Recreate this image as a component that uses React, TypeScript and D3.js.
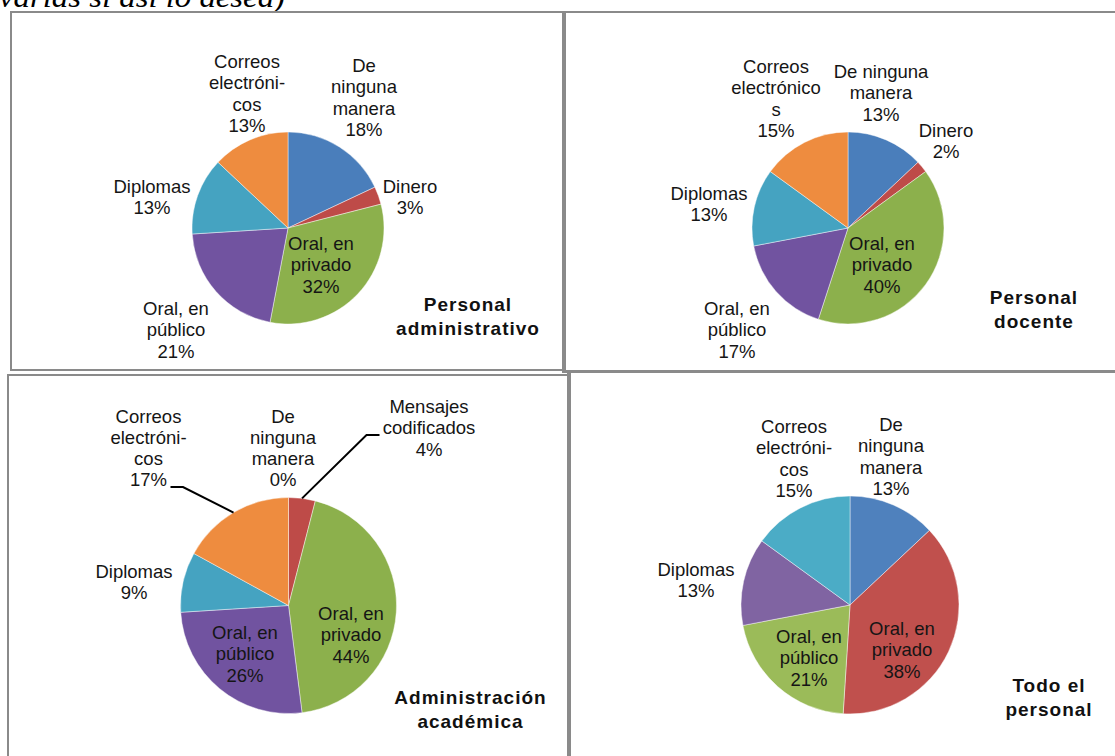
import React from 'react';
import * as d3 from 'd3';

// ---- Data -------------------------------------------------------------
const categoriesAdmin = ['De ninguna manera', 'Dinero', 'Oral, en privado', 'Oral, en público', 'Diplomas', 'Correos electrónicos'];
const valuesAdmin = [18, 3, 32, 21, 13, 13];
const labelLinesAdmin = [['De', 'ninguna', 'manera'], ['Dinero'], ['Oral, en', 'privado'], ['Oral, en', 'público'], ['Diplomas'], ['Correos', 'electróni-', 'cos']];

const categoriesDocente = ['De ninguna manera', 'Dinero', 'Oral, en privado', 'Oral, en público', 'Diplomas', 'Correos electrónicos'];
const valuesDocente = [13, 2, 40, 17, 13, 15];
const labelLinesDocente = [['De ninguna', 'manera'], ['Dinero'], ['Oral, en', 'privado'], ['Oral, en', 'público'], ['Diplomas'], ['Correos', 'electrónico', 's']];

const categoriesAcademica = ['De ninguna manera', 'Mensajes codificados', 'Oral, en privado', 'Oral, en público', 'Diplomas', 'Correos electrónicos'];
const valuesAcademica = [0, 4, 44, 26, 9, 17];
const labelLinesAcademica = [['De', 'ninguna', 'manera'], ['Mensajes', 'codificados'], ['Oral, en', 'privado'], ['Oral, en', 'público'], ['Diplomas'], ['Correos', 'electróni-', 'cos']];

const categoriesTodo = ['De ninguna manera', 'Oral, en privado', 'Oral, en público', 'Diplomas', 'Correos electrónicos'];
const valuesTodo = [13, 38, 21, 13, 15];
const labelLinesTodo = [['De', 'ninguna', 'manera'], ['Oral, en', 'privado'], ['Oral, en', 'público'], ['Diplomas'], ['Correos', 'electróni-', 'cos']];

const titleAdmin = ['Personal', 'administrativo'];
const titleDocente = ['Personal', 'docente'];
const titleAcademica = ['Administración', 'académica'];
const titleTodo = ['Todo el', 'personal'];

// ---- Styles & layout ---------------------------------------------------
const paletteDoc = ['#4A7EBB', '#BE4B48', '#8CB04C', '#7153A0', '#45A3C1', '#EE8C3F'];
const paletteOffice = ['#4F81BD', '#C0504D', '#9BBB59', '#8064A2', '#4BACC6', '#F79646'];

const LABEL_FONT = "'Liberation Sans', Arial, sans-serif";
const LABEL_SIZE = 18.5;
const LINE_GAP = 21.3;
const BORDER = '#8a8a8a';

type Leader = { index: number; elbow: [number, number]; end: [number, number] };
type Panel = {
  categories: string[];
  values: number[];
  lines: string[][];
  palette: string[];
  cx: number;
  cy: number;
  r: number;
  // label anchor: [center x offset, first baseline offset] relative to pie center
  labelPos: [number, number][];
  title: string[];
  titleX: number;
  titleY: number;
  titleGap: number;
  leaders?: Leader[];
};

const panels: Panel[] = [
  {
    categories: categoriesAdmin, values: valuesAdmin, lines: labelLinesAdmin, palette: paletteDoc,
    cx: 288, cy: 228, r: 96,
    labelPos: [[76, -156], [122, -35], [33, 22], [-112, 87], [-136, -35], [-41, -160]],
    title: titleAdmin, titleX: 468, titleY: 311, titleGap: 23.5,
  },
  {
    categories: categoriesDocente, values: valuesDocente, lines: labelLinesDocente, palette: paletteDoc,
    cx: 848, cy: 228, r: 96,
    labelPos: [[33, -150], [98, -91], [34, 22], [-111, 87], [-139, -28], [-72, -155]],
    title: titleDocente, titleX: 1034, titleY: 304, titleGap: 24,
  },
  {
    categories: categoriesAcademica, values: valuesAcademica, lines: labelLinesAcademica, palette: paletteDoc,
    cx: 288.5, cy: 605.5, r: 108,
    labelPos: [[-5.5, -183], [140.5, -192.5], [62.5, 14.5], [-43.5, 33.5], [-154.5, -27.5], [-140, -183]],
    title: titleAcademica, titleX: 470.5, titleY: 704, titleGap: 24,
    leaders: [
      { index: 1, elbow: [78, -170.5], end: [91, -170.5] },
      { index: 5, elbow: [-105.5, -118.5], end: [-118, -118.5] },
    ],
  },
  {
    categories: categoriesTodo, values: valuesTodo, lines: labelLinesTodo, palette: paletteOffice,
    cx: 850, cy: 605, r: 109,
    labelPos: [[41, -174], [52, 30], [-41, 38], [-154, -29], [-56, -172]],
    title: titleTodo, titleX: 1049, titleY: 692, titleGap: 23.5,
  },
];

const pieGen = d3.pie<number>().sort(null).value((d) => d);

function PiePanel({ p }: { p: Panel }) {
  const arcs = pieGen(p.values);
  const arc = d3.arc<d3.PieArcDatum<number>>().innerRadius(0).outerRadius(p.r);
  const rim = d3.arc<d3.PieArcDatum<number>>().innerRadius(p.r).outerRadius(p.r);
  return (
    <g transform={`translate(${p.cx},${p.cy})`}>
      {arcs.map((a, i) =>
        a.value > 0 ? (
          <path key={`s${i}`} d={arc(a) || ''} fill={p.palette[i]} stroke="#ffffff" strokeOpacity={0.55} strokeWidth={0.8}>
            <title>{`${p.categories[i]}: ${a.value}%`}</title>
          </path>
        ) : null
      )}
      {(p.leaders || []).map((l, k) => {
        const [mx, my] = rim.centroid(arcs[l.index]);
        const line = d3.line()([[mx, my], l.elbow, l.end]);
        return <path key={`l${k}`} d={line || ''} fill="none" stroke="#000" strokeWidth={2} />;
      })}
      {arcs.map((a, i) => {
        const [lx, ly] = p.labelPos[i];
        const rows = [...p.lines[i], `${a.value}%`];
        return (
          <text key={`t${i}`} x={lx} y={ly} textAnchor="middle" fontFamily={LABEL_FONT} fontSize={LABEL_SIZE} fill="#151515">
            {rows.map((row, j) => (
              <tspan key={j} x={lx} y={ly + j * LINE_GAP}>{row}</tspan>
            ))}
          </text>
        );
      })}
      <text textAnchor="middle" fontFamily={LABEL_FONT} fontSize={19} fontWeight="bold" letterSpacing={1} fill="#111">
        {p.title.map((row, j) => (
          <tspan key={j} x={p.titleX - p.cx} y={p.titleY - p.cy + j * p.titleGap}>{row}</tspan>
        ))}
      </text>
    </g>
  );
}

export default function App() {
  return (
    <svg width={1115} height={756} viewBox="0 0 1115 756" style={{ position: 'absolute', left: 0, top: 0, background: '#fff' }}>
      <rect x={0} y={0} width={1115} height={756} fill="#fff" />
      {/* tail of the preceding question line, partly above the page edge */}
      <text x={-1} y={7} fontFamily="'Liberation Serif', 'DejaVu Serif', serif" fontStyle="italic" fontSize={30} fill="#000" textLength={286} lengthAdjust="spacingAndGlyphs">
        varias si así lo desea)
      </text>
      {/* cell borders */}
      <g stroke={BORDER} fill="none">
        <line x1={10} y1={12} x2={1115} y2={12} strokeWidth={2} />
        <line x1={11} y1={11} x2={11} y2={371} strokeWidth={2} />
        <line x1={10} y1={370} x2={562} y2={370} strokeWidth={2} />
        <line x1={564} y1={11} x2={564} y2={373} strokeWidth={4} />
        <line x1={564} y1={371.5} x2={1115} y2={371.5} strokeWidth={3} />
        <line x1={7} y1={375} x2={567} y2={375} strokeWidth={2} />
        <line x1={8} y1={374} x2={8} y2={756} strokeWidth={2} />
        <line x1={569} y1={370} x2={569} y2={756} strokeWidth={4} />
      </g>
      {panels.map((p, i) => (
        <PiePanel key={i} p={p} />
      ))}
    </svg>
  );
}
